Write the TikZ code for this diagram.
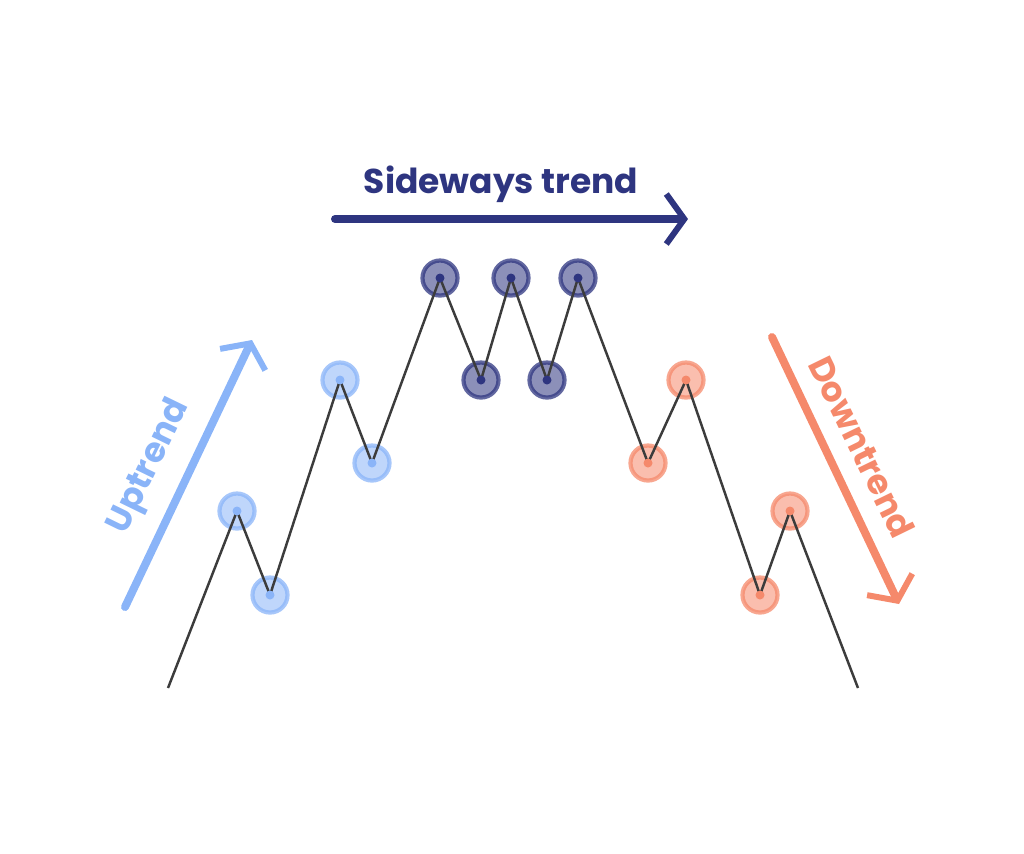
\documentclass[tikz,border=0pt]{standalone}
\usepackage{fontspec}
\setmainfont{Poppins}
\usetikzlibrary{arrows.meta}
\definecolor{upblue}{HTML}{8AB4F8}
\definecolor{navy}{HTML}{2E3580}
\definecolor{salmon}{HTML}{F5896B}
\definecolor{linegray}{HTML}{3C3C3C}
\tikzset{
  pt/.style={circle, draw=#1, line width=1.2pt, fill=#1, fill opacity=0.55, draw opacity=0.75, minimum size=0.35cm, inner sep=0pt},
  dot/.style={circle, fill=#1, minimum size=0.09cm, inner sep=0pt},
  trend/.style={line width=0.08cm, line cap=round, -{Straight Barb[length=0.18cm, width=0.5cm, line width=0.06cm]}},
  lbl/.style={font=\bfseries\fontsize{9.8}{12}\selectfont}
}
\begin{document}
\begin{tikzpicture}[x=0.01cm, y=-0.01cm]
  \useasboundingbox (0,0) rectangle (1024,853);

  % Turning points
  \coordinate (s) at (168,688);
  \coordinate (e) at (858,688);
  \foreach \n/\x/\y/\c in {u1/237/511/upblue, u2/270/595/upblue, u3/340/380/upblue, u4/372/463/upblue,
      m1/440/278/navy, m2/481/380/navy, m3/511/278/navy, m4/547/380/navy, m5/578/278/navy,
      d1/648/463/salmon, d2/686/380/salmon, d3/760/595/salmon, d4/790/511/salmon}
    \node[pt=\c] (\n) at (\x,\y) {};

  % Price line
  \draw[linegray, line width=0.7pt] (s) -- (u1.center) -- (u2.center) -- (u3.center) -- (u4.center)
    -- (m1.center) -- (m2.center) -- (m3.center) -- (m4.center) -- (m5.center)
    -- (d1.center) -- (d2.center) -- (d3.center) -- (d4.center) -- (e);

  \foreach \n/\c in {u1/upblue, u2/upblue, u3/upblue, u4/upblue, m1/navy, m2/navy, m3/navy,
      m4/navy, m5/navy, d1/salmon, d2/salmon, d3/salmon, d4/salmon}
    \node[dot=\c] at (\n.center) {};

  % Trend arrows
  \coordinate (ua) at (125,607);
  \coordinate (ub) at (252,340);
  \draw[trend, upblue] (ua) -- (ub);
  \node[lbl, upblue, rotate=64] (uptxt) at (150,467) {Uptrend};

  \coordinate (sa) at (335,219);
  \coordinate (sb) at (688,219);
  \draw[trend, navy] (sa) -- (sb);
  \node[lbl, navy] (sidetxt) at (501,184) {Sideways trend};

  \coordinate (da) at (772,337);
  \coordinate (db) at (899,604);
  \draw[trend, salmon] (da) -- (db);
  \node[lbl, salmon, rotate=-64] (downtxt) at (862,447) {Downtrend};
\end{tikzpicture}
\end{document}
